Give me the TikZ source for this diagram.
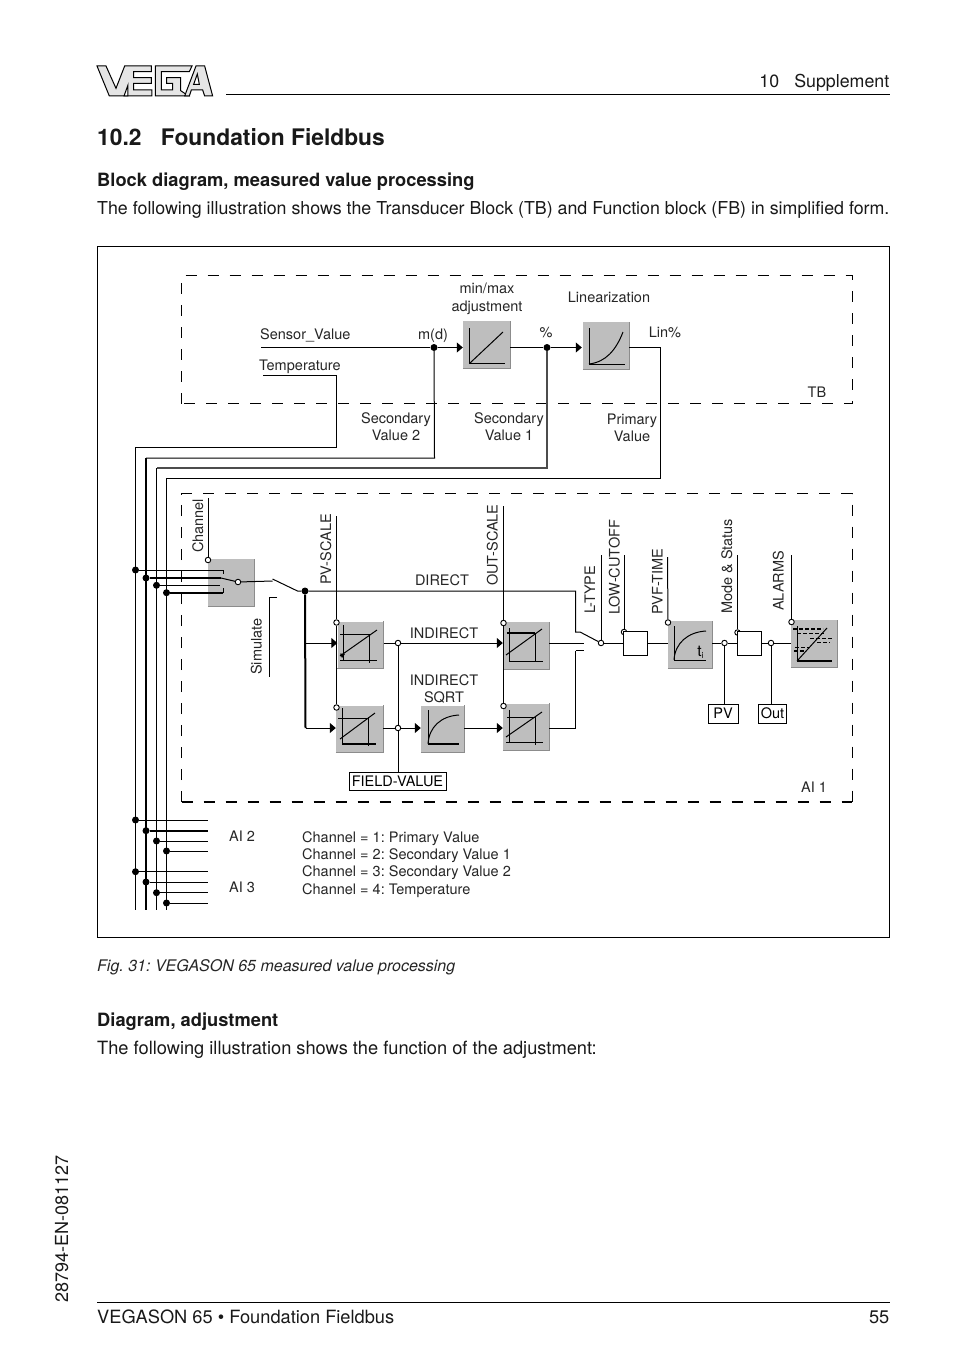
\documentclass[tikz,border=0pt]{standalone}
\usepackage{fontspec}
\setmainfont{TeX Gyre Heros}
\usetikzlibrary{arrows.meta}
\definecolor{blockgray}{HTML}{BEBEBE}
\definecolor{edgegray}{HTML}{8C8C8C}
\newcommand{\lfont}{\fontsize{14.5}{17}\selectfont}
\frenchspacing
\tikzset{
 lab/.style={font=\lfont,inner sep=0,text=black!85},
 bodyt/.style={font=\fontsize{18.25}{20}\selectfont,inner sep=0,text=black!90},
 tightt/.style={font=\fontsize{17.8}{20}\selectfont,inner sep=0,text=black!90},
 boldt/.style={font=\fontsize{18.3}{20}\selectfont\bfseries,inner sep=0,text=black!90},
 rl/.style={lab,rotate=90,anchor=base west},
 conn/.style={line width=1pt},
 tconn/.style={line width=2pt},
 dashbox/.style={line width=1pt,dash pattern=on 11pt off 11pt},
 tipped/.style={-{Triangle[length=6pt,width=10pt]}},
 blockbox/.style={fill=blockgray,draw=none,inner sep=0,minimum width=#1,minimum height=47pt},
 blockbox/.default=46pt,
 sedge/.style={line width=1.4pt,draw=edgegray},
 od/.style={circle,draw=black,fill=white,line width=.9pt,inner sep=0,minimum size=5.5pt},
 fd/.style={circle,fill=black,inner sep=0,minimum size=7pt},
 sq/.style={draw=black,line width=1pt,fill=white,inner sep=0,font=\lfont},
 gr/.style={line width=1pt},
 grt/.style={line width=2pt},
 logo/.style={fill=black!10,draw=black,line width=1pt,line join=miter},
}
\newcommand{\blk}[4][46pt]{\node[blockbox=#1] (#2) at (#3,#4) {};
 \draw[sedge] (#2.south west) -- (#2.south east) -- (#2.north east);}
\begin{document}
\begin{tikzpicture}[x=1pt,y=-1pt]
\useasboundingbox (0,0) rectangle (954,1354);
\fill[white] (0,0) rectangle (954,1354);
% logo
\begin{scope}[shift={(92,60)},x=.3333pt,y=-.3333pt]
\draw[logo] (15,18)--(42,18)--(72,85)--(98,18)--(178,18)--(178,35)--(125,35)--(125,53)--(178,53)--(178,70)--(125,70)--(125,90)--(180,90)--(180,108)--(52,108)--cycle;
\draw[logo] (190,18)--(300,18)--(292,35)--(208,35)--(208,90)--(242,90)--(242,70)--(224,70)--(224,53)--(266,53)--(266,92)--(290,108)--(190,108)--cycle;
\draw[logo] (278,108)--(312,18)--(338,18)--(362,108)--(338,108)--(332,90)--(298,90)--(292,108)--cycle;
\draw[logo,fill=white] (305,73)--(322,73)--(316,42)--cycle;
\draw[logo,fill=white] (108,108)--(96,108)--(108,75)--cycle;
\end{scope}
% page furniture
\coordinate (hl) at (226,94.5); \coordinate (hr) at (889.5,94.5);
\draw[line width=.9pt] (hl) -- (hr);
\node[tightt,anchor=base east] (sup) at (889.5,88) {10\hspace{.85em}Supplement};
\node[font=\fontsize{22.8}{28}\selectfont\bfseries,inner sep=0,anchor=base west,text=black!90] (head) at (97,145) {10.2\hspace{.85em}Foundation Fieldbus};
\node[boldt,anchor=base west] (t1) at (97,186) {Block diagram, measured value processing};
\node[tightt,anchor=base west] (t2) at (97,214) {The following illustration shows the Transducer Block (TB) and Function block (FB) in simplified form.};
\node[font=\fontsize{16}{18}\selectfont\itshape,inner sep=0,anchor=base west,text=black!85] (cap) at (97,971) {Fig. 31: VEGASON 65 measured value processing};
\node[boldt,anchor=base west] (t3) at (97,1026) {Diagram, adjustment};
\node[bodyt,anchor=base west] (t4) at (97,1054) {The following illustration shows the function of the adjustment:};
\coordinate (fl) at (97,1302.5); \coordinate (fr) at (889.5,1302.5);
\draw[line width=.9pt] (fl) -- (fr);
\node[bodyt,anchor=base west] (f1) at (97,1323) {VEGASON 65 • Foundation Fieldbus};
\node[bodyt,anchor=base east] (f2) at (889.5,1323) {55};
\node[tightt,font=\fontsize{18}{20}\selectfont,rotate=90,anchor=base west] (side) at (68,1303) {28794-EN-081127};
% frame and dashed regions
\draw[line width=.9pt] (97.5,246.5) rectangle (889.5,937.5);
\draw[dashbox] (181.5,403.5) -- (181.5,275.5) -- (852,275.5) -- (852,403.5) -- cycle;
\draw[dashbox] (181.5,802) -- (181.5,493.5) -- (852,493.5) -- (852,802);
\draw[dashbox,line width=1.7pt] (181.5,802) -- (852,802);
% blocks
\blk[47pt]{mm}{486.5}{344.5}
\blk{ln}{606}{345.5}
\blk{sw}{231}{582.5}
\blk{bone}{360.5}{645}
\blk[47pt]{btwo}{359.5}{729}
\blk{bthree}{526}{645.5}
\blk{bfour}{526}{727}
\blk[43pt]{bsq}{442.5}{729}
\blk[44pt]{bpvf}{690}{644.5}
\blk{bal}{814}{643.5}
% block glyphs
\draw[gr] (469,328)--(469,363)--(505,363); \draw[gr] (470,363)--(503,332);
\draw[gr] (589,328)--(589,364)--(625,364); \draw[gr] (589,364) .. controls (606,362) and (616,350) .. (623,332);
\draw[gr] (343,625)--(343,660); \draw[gr] (340,660)--(377,660); \draw[gr] (369,634)--(369,663); \draw[gr] (340,634)--(369,634); \draw[gr] (340,656)--(377,630);
\fill (340,653.5)--(345,654)--(342,658)--cycle;
\draw[gr] (342,708)--(342,744); \draw[grt] (342,744)--(376,744); \draw[gr] (368,717)--(368,746); \draw[gr] (338,718)--(368,718); \draw[gr] (340,739)--(375,713);
\draw[gr] (509,628)--(509,661)--(543,661); \draw[gr] (535,633)--(535,662); \draw[line width=1.5pt] (507,633)--(535,633); \draw[gr] (506,655)--(542,629);
\draw[gr] (509,710)--(509,743); \draw[gr] (506,742)--(543,742); \draw[gr] (535,717)--(535,745); \draw[gr] (507,717)--(535,717); \draw[gr] (506,737)--(542,712);
\draw[gr] (428,710)--(428,744); \draw[grt] (428,744)--(459,744); \draw[gr] (428,744) .. controls (429,727) and (441,716) .. (459,715);
\draw[gr] (674,626)--(674,660)--(706,660); \draw[gr] (674,660) .. controls (675,643) and (688,632) .. (706,631);
\node[font=\fontsize{15.5}{16}\selectfont,inner sep=0,anchor=base] (ti) at (700.5,656) {t\raisebox{-2pt}{\fontsize{8.5}{9}\selectfont i}};
\draw[gr] (797,626)--(797,661); \draw[grt] (797,661)--(832,661); \draw[gr] (797,661)--(827,628);
\draw[line width=1.6pt,dash pattern=on 4pt off 2pt] (793,629)--(823,629);
\draw[line width=.8pt,dash pattern=on 4pt off 2pt] (797,633)--(824,633);
\draw[line width=.8pt,dash pattern=on 4pt off 2pt] (810,638)--(832,638);
\draw[line width=.8pt,dash pattern=on 4pt off 2pt] (817,642)--(830,642);
\draw[line width=.8pt,dash pattern=on 4pt off 2pt] (795,647)--(810,647);
\draw[line width=1.6pt,dash pattern=on 4pt off 2pt] (794,651)--(806,651);
% junctions
\node[fd] (jm) at (434,347.5) {};
\node[fd] (jp) at (547,347.5) {};
\node[fd] (jd) at (305,591) {};
\node[od] (jch) at (208,560) {};
\node[od] (ja) at (238,582) {};
\node[od] (jpv1) at (336.5,622.5) {};
\node[od] (jpv2) at (336.5,707.5) {};
\node[od] (jfv1) at (398,643) {};
\node[od] (jfv2) at (398,728) {};
\node[od] (jo1) at (503.5,623) {};
\node[od] (jo2) at (503.5,706) {};
\node[od] (jlt) at (601,643) {};
\node[od] (jlc) at (624,632) {};
\node[od] (jpt) at (668,622.5) {};
\node[od] (jpvo) at (724.5,643) {};
\node[od] (jms) at (737.5,632.5) {};
\node[od] (jou) at (771,643) {};
\node[od] (jal) at (791.5,622) {};
% small boxes
\node[sq,minimum width=24pt,minimum height=24pt] (cbox) at (635,643) {};
\node[sq,minimum width=24pt,minimum height=24pt] (dbox) at (749,643) {};
\node[sq,minimum width=30pt,minimum height=19pt] (pvb) at (723,713.5) {PV};
\node[sq,minimum width=28pt,minimum height=19pt] (outb) at (772.5,713.5) {Out};
\node[sq,minimum width=97pt,minimum height=18pt] (fvb) at (397.5,781) {FIELD-VALUE};
% bus
\coordinate (b1t) at (135.5,447); \coordinate (b1b) at (135.5,910);
\coordinate (b2t) at (146,458); \coordinate (b2b) at (146,910);
\coordinate (b3t) at (156.5,468); \coordinate (b3b) at (156.5,910);
\coordinate (b4t) at (166.5,478); \coordinate (b4b) at (166.5,910);
\draw[conn] (b1t) -- (b1b);
\draw[tconn] (b2t) -- (b2b);
\draw[conn] (b3t) -- (b3b);
\draw[conn] (b4t) -- (b4b);
\coordinate (tmpl) at (263,375); \coordinate (tmpr) at (336.5,375); \coordinate (tmpb) at (336.5,447);
\draw[conn] (tmpl) -- (tmpr) -- (tmpb) -- (b1t);
\coordinate (sv2) at (434.5,458); \draw[conn] (jm) -- (sv2) -- (b2t);
\coordinate (sv1) at (547,468); \draw[conn,draw=black!70,line width=1.3pt] (jp) -- (sv1) -- (b3t);
\coordinate (pr1) at (660.5,347.5); \coordinate (pr2) at (660.5,478);
\draw[conn] (ln.east |- pr1) -- (pr1) -- (pr2) -- (b4t);
% TB signal path
\coordinate (sens) at (261,347.5);
\draw[conn] (sens) -- (jm);
\draw[conn,tipped] (jm) -- (mm.west |- jm);
\draw[conn] (mm.east |- jp) -- (jp);
\draw[conn,tipped] (jp) -- ([xshift=-1pt]ln.west |- jp);
% channel selector
\foreach \n/\yy/\xx/\w in {a/570/135.5/1pt,b/578/146/2pt,c/585.3/156.5/1pt,d/592.7/166.5/2pt}{
  \node[fd] (ch\n) at (\xx,\yy) {};
  \coordinate (cs\n) at (208,\yy);
  \draw[line width=\w] (ch\n) -- (cs\n);
}
\coordinate (kae) at (223,570); \coordinate (kab) at (223,574);
\draw[conn] (csa) -- (kae) -- (kab);
\coordinate (kbe) at (221,578); \draw[tconn] (csb) -- (kbe);
\coordinate (kce) at (220,585.3); \draw[conn] (csc) -- (kce);
\coordinate (kde) at (223,592.7); \coordinate (kdb) at (223,588);
\draw[tconn] (csd) -- (kde); \draw[conn] (kde) -- (kdb);
\draw[conn] (kbe) -- (ja);
\coordinate (chtop) at (208,498); \draw[conn] (chtop) -- (jch);
\coordinate (swa) at (272.5,581); \coordinate (swb) at (272.5,579); \coordinate (swc) at (297.5,591);
\draw[conn] (ja) -- (swa);
\draw[conn] (swb) -- (swc) -- (jd);
\coordinate (sima) at (277,597); \coordinate (simb) at (269.5,597); \coordinate (simc) at (269.5,677);
\draw[conn] (sima) -- (simb) -- (simc);
% direct path
\coordinate (dira) at (575.5,591); \coordinate (dirb) at (575.5,632); \coordinate (dirc) at (580,632);
\draw[conn] (jd) -- (dira) -- (dirb) -- (dirc) -- (jlt);
% scaling paths
\coordinate (vb) at (305.5,728); \coordinate (vm) at (305.5,643);
\draw[tconn] (jd) -- (vb);
\draw[conn,tipped] (vm) -- (bone.west |- vm);
\draw[conn,tipped] (vb) -- (btwo.west |- vb);
\coordinate (pvt) at (336.5,516);
\draw[conn] (pvt) -- (jpv1) -- (jpv2);
\draw[conn] (bone.east |- jfv1) -- (jfv1);
\draw[conn,tipped] (jfv1) -- (bthree.west |- jfv1);
\draw[conn] (jfv1) -- (jfv2) -- (fvb.north -| jfv2);
\draw[conn] (btwo.east |- jfv2) -- (jfv2);
\draw[conn,tipped] (jfv2) -- (bsq.west |- jfv2);
\draw[conn,tipped] (bsq.east |- jfv2) -- (bfour.west |- jfv2);
\coordinate (ost) at (503.5,506);
\draw[conn] (ost) -- (jo1);
\draw[conn] (jo1) -- (jo2);
\coordinate (b3o) at (583.5,643);
\draw[conn] (bthree.east |- b3o) -- (b3o);
\coordinate (b4oa) at (575.5,728); \coordinate (b4ob) at (575.5,650.5); \coordinate (b4oc) at (583.5,650.5);
\draw[conn] (bfour.east |- b4oa) -- (b4oa) -- (b4ob);
\draw[line width=1.6pt] (b4ob) -- (b4oc);
% output chain
\coordinate (ltt) at (601,555); \draw[conn] (ltt) -- (jlt);
\draw[conn] (jlt) -- (cbox.west |- jlt);
\coordinate (lct) at (624,555); \draw[conn] (lct) -- (jlc);
\draw[conn] (cbox.east |- jlt) -- (bpvf.west |- jlt);
\coordinate (ptt) at (667.5,557); \draw[conn] (ptt) -- (jpt);
\draw[conn] (bpvf.east |- jpvo) -- (jpvo) -- (dbox.west |- jpvo);
\draw[conn] (jpvo) -- (pvb.north -| jpvo);
\coordinate (mst) at (737.5,555); \draw[conn] (mst) -- (jms);
\draw[conn] (dbox.east |- jou) -- (jou) -- (bal.west |- jou);
\draw[conn] (jou) -- (outb.north -| jou);
\coordinate (alt) at (791.5,555); \draw[conn] (alt) -- (jal);
% AI2 / AI3 stubs
\foreach \n/\yy/\xx/\w in {e/820/135.5/1pt,f/830.7/146/2pt,g/841/156.5/1pt,h/851/166.5/1pt,i/871.7/135.5/1pt,j/882/146/1pt,k/892.7/156.5/1pt,l/903/166.5/1pt}{
  \node[fd] (ch\n) at (\xx,\yy) {};
  \coordinate (cs\n) at (208,\yy);
  \draw[line width=\w] (ch\n) -- (cs\n);
}
% labels
\node[lab,anchor=base west] (l1) at (260,339) {Sensor\_Value};
\node[lab,anchor=base] (l2) at (433,339) {m(d)};
\node[lab,anchor=base west] (l3) at (259,370) {Temperature};
\node[lab,anchor=base] (l4) at (487,293) {min/max};
\node[lab,anchor=base] (l5) at (487,311) {adjustment};
\node[lab,anchor=base] (l6) at (609,302) {Linearization};
\node[lab,anchor=base] (l7) at (546,337) {\%};
\node[lab,anchor=base] (l8) at (665,337) {Lin\%};
\node[lab,anchor=base] (l9) at (817,397) {TB};
\node[lab,anchor=base] (l10) at (396,423) {Secondary};
\node[lab,anchor=base] (l11) at (396,440) {Value 2};
\node[lab,anchor=base] (l12) at (509,423) {Secondary};
\node[lab,anchor=base] (l13) at (509,440) {Value 1};
\node[lab,anchor=base] (l14) at (632,424) {Primary};
\node[lab,anchor=base] (l15) at (632,441) {Value};
\node[lab,anchor=base] (l16) at (442,585) {DIRECT};
\node[lab,anchor=base] (l17) at (444,638) {INDIRECT};
\node[lab,anchor=base] (l18) at (444,685) {INDIRECT};
\node[lab,anchor=base] (l19) at (444,702) {SQRT};
\node[lab,anchor=base] (l20) at (814,792) {AI 1};
\node[lab,anchor=base west] (l21) at (229,841) {AI 2};
\node[lab,anchor=base west] (l22) at (229,892) {AI 3};
\node[lab,anchor=base west] (l23) at (302,842) {Channel = 1: Primary Value};
\node[lab,anchor=base west] (l24) at (302,859) {Channel = 2: Secondary Value 1};
\node[lab,anchor=base west] (l25) at (302,876.5) {Channel = 3: Secondary Value 2};
\node[lab,anchor=base west] (l26) at (302,894) {Channel = 4: Temperature};
\node[rl] (r1) at (203,553) {Channel};
\node[rl] (r2) at (261.5,675) {Simulate};
\node[rl] (r3) at (331,585) {PV-SCALE};
\node[rl] (r4) at (497.5,586) {OUT-SCALE};
\node[rl] (r5) at (595,614) {L-TYPE};
\node[rl] (r6) at (619.5,615) {LOW-CUTOFF};
\node[rl] (r7) at (662.5,615) {PVF-TIME};
\node[rl] (r8) at (732,614) {Mode \& Status};
\node[rl] (r9) at (783.5,611) {ALARMS};
\end{tikzpicture}
\end{document}
